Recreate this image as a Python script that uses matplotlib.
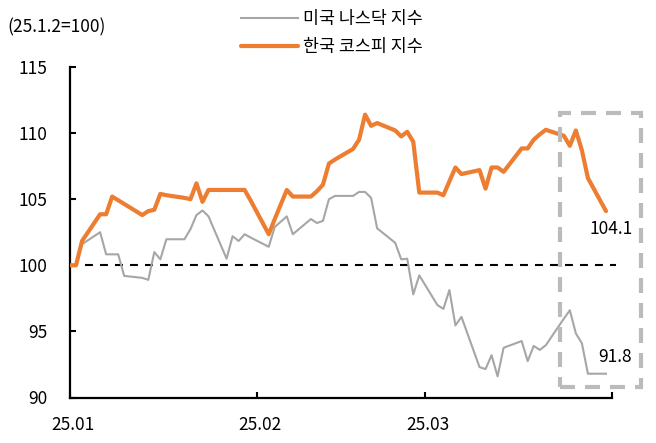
import matplotlib.pyplot as plt
import matplotlib.transforms as mtransforms
import pandas as pd
from matplotlib.patches import Rectangle

plt.rcParams["font.family"] = ["Noto Sans CJK KR", "DejaVu Sans"]

# business days, values carried forward over market holidays
dates = pd.bdate_range("2025-01-01", "2025-03-31")

kospi_jan = [100.0, 100.0, 101.84, 103.86, 103.86, 105.2, 104.92, 104.64, 103.8, 104.1, 104.2,
             105.4, 105.3, 105.1, 105.0, 106.2, 104.8, 105.7, 105.7, 105.7, 105.7, 105.7, 104.9]
kospi_feb = [102.35, 103.5, 104.6, 105.7, 105.2, 105.2, 105.6, 106.1, 107.7, 108.0,
             108.8, 109.5, 111.4, 110.55, 110.76, 110.2, 109.75, 110.1, 109.34, 105.5]
kospi_mar = [105.5, 105.3, 106.35, 107.4, 106.9, 107.2, 105.8, 107.4, 107.4, 107.07, 108.84,
             108.84, 109.5, 109.9, 110.25, 109.8, 109.04, 110.2, 108.7, 106.6, 104.1]

nasdaq_jan = [100.0, 100.0, 101.6, 102.5, 100.83, 100.83, 100.83, 99.2, 99.05, 98.9, 101.0,
              100.45, 101.97, 101.97, 102.73, 103.8, 104.15, 103.7, 100.5, 102.2, 101.84, 102.35, 102.1]
nasdaq_feb = [101.4, 102.9, 103.3, 103.7, 102.35, 103.5, 103.2, 103.36, 105.0, 105.25,
              105.25, 105.55, 105.55, 105.1, 102.8, 101.7, 100.45, 100.5, 97.8, 99.24]
nasdaq_mar = [97.0, 96.7, 98.13, 95.45, 96.1, 92.3, 92.15, 93.2, 91.6, 93.76, 94.27,
              92.75, 93.9, 93.6, 93.95, 95.96, 96.6, 94.85, 94.1, 91.8, 91.8]

kospi = kospi_jan + kospi_feb + kospi_mar
nasdaq = nasdaq_jan + nasdaq_feb + nasdaq_mar

tick_dates = ["2025-01-01", "2025-02-01", "2025-03-01", "2025-04-01"]
tick_labels = ["25.01", "25.02", "25.03", ""]
yticks = [90, 95, 100, 105, 110, 115]
base_label = "(25.1.2=100)"
nasdaq_name = "미국 나스닥 지수"
kospi_name = "한국 코스피 지수"

fig = plt.figure(figsize=(6.56, 4.43), dpi=100)
ax = fig.add_axes([70 / 656, 45.5 / 443, 542 / 656, 330.5 / 443])

ax.plot(dates, nasdaq, color="#A6A6A6", lw=1.5, label=nasdaq_name, zorder=3)
ax.plot(dates, kospi, color="#ED7D31", lw=3, label=kospi_name, zorder=4,
        solid_joinstyle="round", solid_capstyle="round")
ax.axhline(100, xmin=0, xmax=1.008, color="black", lw=1.5, ls=(0, (3.8, 3.4)),
           clip_on=False, zorder=2)

ax.set_xlim(pd.Timestamp("2025-01-01"), pd.Timestamp("2025-04-01"))
ax.set_ylim(90, 115)
ax.set_xticks(pd.to_datetime(tick_dates))
ax.set_xticklabels(tick_labels)
ax.set_yticks(yticks)
ax.tick_params(direction="in", length=4, width=1.5, labelsize=12.5)
ax.tick_params(axis="y", pad=16)
ax.tick_params(axis="x", pad=13)
for side in ["top", "right"]:
    ax.spines[side].set_visible(False)
for side in ["left", "bottom"]:
    ax.spines[side].set_linewidth(1.6)

shift = mtransforms.ScaledTranslation(3 / 100, 0, fig.dpi_scale_trans)
for lab in ax.get_xticklabels():
    lab.set_transform(lab.get_transform() + shift)

ax.annotate(f"{kospi[-1]:.1f}", (dates[-1], kospi[-1]), xytext=(19.4, -13),
            textcoords="offset points", ha="right", va="center", fontsize=12.5)
ax.annotate(f"{nasdaq[-1]:.1f}", (dates[-1], nasdaq[-1]), xytext=(18.7, 12),
            textcoords="offset points", ha="right", va="center", fontsize=12.5)

# highlight box around the last week
box = Rectangle((560 / 656, (443 - 386.7) / 443), 80.7 / 656, 273.4 / 443,
                transform=fig.transFigure, fill=False, ec="#BBBBBB", lw=3,
                ls=(0, (3.6, 2.4)))
fig.add_artist(box)

fig.text(7 / 656, 1 - 27 / 443, base_label, ha="left", va="center", fontsize=12.5)

fig.legend(loc="upper left", bbox_to_anchor=(241 / 656, 1 - 10 / 443), frameon=False,
           handlelength=3.3, handletextpad=0.25, labelspacing=0.6, borderpad=0,
           borderaxespad=0, fontsize=12.5)

fig.savefig("out.png", dpi=100)
